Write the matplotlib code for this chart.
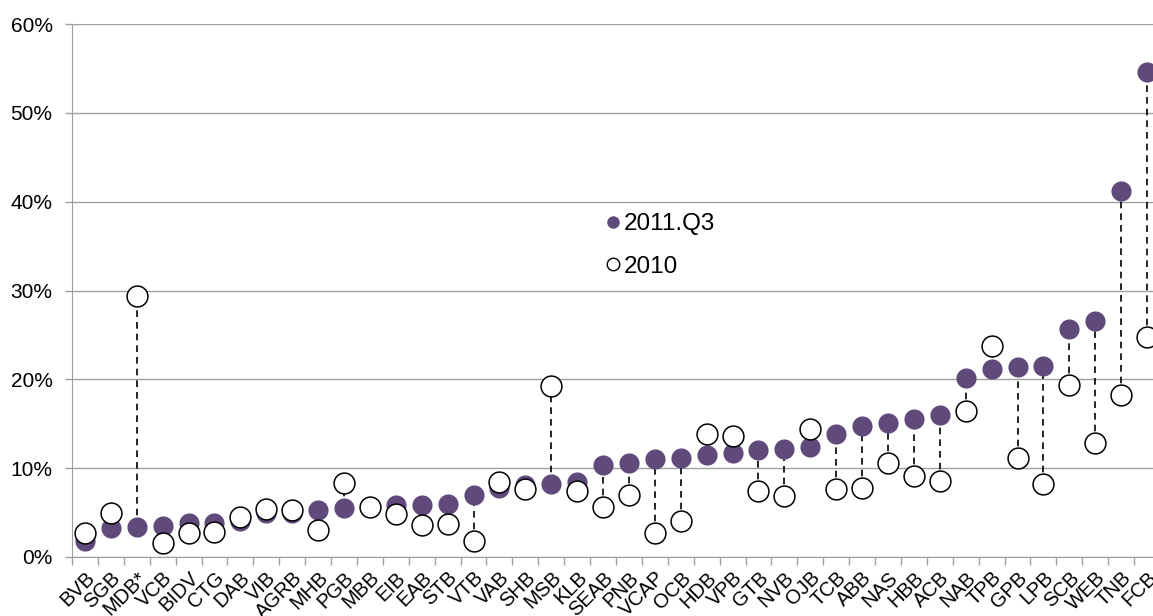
import numpy as np
import matplotlib.pyplot as plt
from matplotlib.lines import Line2D

plt.rcParams['font.family'] = ['Liberation Sans', 'DejaVu Sans']

banks = ['BVB', 'SGB', 'MDB*', 'VCB', 'BIDV', 'CTG', 'DAB', 'VIB', 'AGRB', 'MHB',
         'PGB', 'MBB', 'EIB', 'EAB', 'STB', 'VTB', 'VAB', 'SHB', 'MSB', 'KLB',
         'SEAB', 'PNB', 'VCAP', 'OCB', 'HDB', 'VPB', 'GTB', 'NVB', 'OJB', 'TCB',
         'ABB', 'NAS', 'HBB', 'ACB', 'NAB', 'TPB', 'GPB', 'LPB', 'SCB', 'WEB',
         'TNB', 'FCB']
# 2011.Q3 ratio, %
q3_2011 = [1.8, 3.3, 3.4, 3.5, 3.8, 3.8, 4.0, 4.9, 4.9, 5.3,
           5.5, 5.6, 5.8, 5.8, 6.0, 7.0, 7.8, 8.1, 8.2, 8.4,
           10.4, 10.6, 11.0, 11.2, 11.5, 11.7, 12.0, 12.2, 12.4, 13.9,
           14.8, 15.1, 15.5, 16.0, 20.1, 21.2, 21.4, 21.5, 25.7, 26.6,
           41.2, 54.6]
# 2010 ratio, %
y2010 = [2.7, 5.0, 29.4, 1.6, 2.7, 2.8, 4.5, 5.4, 5.3, 3.0,
         8.3, 5.6, 4.8, 3.6, 3.7, 1.8, 8.4, 7.6, 19.3, 7.4,
         5.6, 7.0, 2.7, 4.0, 13.9, 13.6, 7.4, 6.9, 14.4, 7.6,
         7.8, 10.6, 9.1, 8.6, 16.4, 23.8, 11.2, 8.2, 19.4, 12.8,
         18.2, 24.8]

purple = '#604A7B'
grey = '#A0A0A0'

fig = plt.figure(figsize=(11.53, 6.16), dpi=100)
ax = fig.add_axes([72 / 1153, 59 / 616, 1088 / 1153, 533 / 616])

x = np.arange(len(banks))
a = np.array(q3_2011) / 100
b = np.array(y2010) / 100

# dashed connectors
ax.vlines(x, np.minimum(a, b), np.maximum(a, b), colors='black',
          linestyles=(0, (4, 3)), linewidth=1.2, zorder=2)
ax.plot(x, a, 'o', color=purple, markersize=14.5, markeredgewidth=0, zorder=3)
ax.plot(x, b, 'o', markerfacecolor='white', markeredgecolor='black',
        markersize=15, markeredgewidth=1.1, zorder=4)

ax.set_xlim(-0.5, len(banks) - 0.5)
ax.set_ylim(0, 0.6)
ax.set_yticks(np.arange(0, 0.61, 0.1))
ax.set_yticklabels(['%d%%' % v for v in range(0, 61, 10)], fontsize=15)
ax.yaxis.grid(True, color=grey, linewidth=1)
ax.set_axisbelow(True)

ax.set_xticks(x)
ax.set_xticklabels(banks, rotation=45, ha='right', rotation_mode='anchor',
                   fontsize=14.5)
ax.set_xticks(np.arange(-0.5, len(banks), 1), minor=True)
ax.tick_params(axis='x', which='major', length=0, pad=8)
ax.tick_params(axis='x', which='minor', length=6, color=grey, width=1)
ax.tick_params(axis='y', length=5, color=grey, width=1, pad=9)

for s in ['top', 'right']:
    ax.spines[s].set_visible(False)
ax.spines['left'].set_color(grey)
ax.spines['bottom'].set_color(grey)

handles = [Line2D([], [], linestyle='none', marker='o', color=purple,
                  markersize=9, markeredgewidth=0),
           Line2D([], [], linestyle='none', marker='o', markerfacecolor='white',
                  markeredgecolor='black', markersize=9, markeredgewidth=1)]
ax.legend(handles, ['2011.Q3', '2010'], loc='upper left',
          bbox_to_anchor=(595 / 1153, 1 - 201 / 616), bbox_transform=fig.transFigure,
          frameon=False, fontsize=17.5, handlelength=0.5, handletextpad=0.2,
          labelspacing=0.85, borderpad=0)

fig.savefig('out.png', dpi=100)
